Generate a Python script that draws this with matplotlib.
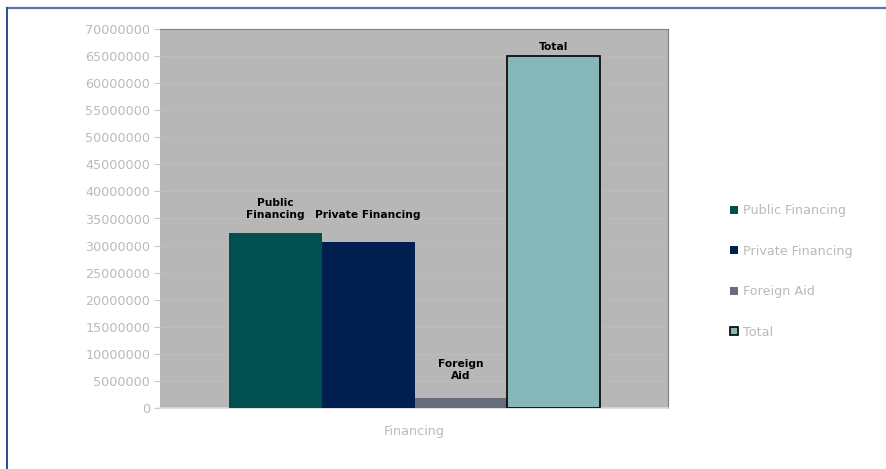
import matplotlib
matplotlib.use("Agg")
from matplotlib import pyplot as plt
from matplotlib.lines import Line2D
import numpy as np

categories = ['Public Financing', 'Private Financing', 'Foreign Aid', 'Total']
bar_labels = ['Public\nFinancing', 'Private Financing', 'Foreign\nAid', 'Total']
values = [32400000, 30700000, 1900000, 65000000]
colors = ['#01504f', '#001e50', '#666e7c', '#87b8b9']
group_label = 'Financing'
yticks = np.arange(0, 70000001, 5000000)

# label lift above each bar top, in points
label_lift = [17, 19.5, 20, 6.5]

fig = plt.figure(figsize=(8.87, 4.69), dpi=100)
ax = fig.add_axes([160 / 887, 1 - 408 / 469, 508 / 887, 379 / 469])
ax.set_facecolor('#b7b7b7')

x = np.arange(len(values))
for i in range(len(values)):
    edge = 'black' if categories[i] == 'Total' else colors[i]
    lw = 1.2 if categories[i] == 'Total' else 0
    ax.bar(x[i], values[i], width=1.0, color=colors[i], edgecolor=edge,
           linewidth=lw, label=categories[i], zorder=3)
    ax.annotate(bar_labels[i], (x[i], values[i]), xytext=(0, label_lift[i]),
                textcoords='offset points', ha='center', va='center',
                fontsize=7.7, fontweight='bold', family='DejaVu Sans',
                linespacing=1.2, zorder=4)

ax.set_xlim(-1.244, 4.233)
ax.set_ylim(0, 70000000)
ax.set_yticks(yticks)
ax.set_yticklabels([str(v) for v in yticks])
ax.set_xticks([1.5])
ax.set_xticklabels([group_label])
ax.yaxis.grid(True, color='#bdbdbd', linewidth=0.6, zorder=0)
ax.set_axisbelow(True)

ax.tick_params(axis='y', colors='#c8c8c8', labelcolor='#bababa', labelsize=9.2,
               length=4, width=0.8, pad=3)
ax.tick_params(axis='x', length=0, labelcolor='#bababa', labelsize=9.2, pad=12)

ax.spines['top'].set_color('#7f7f7f')
ax.spines['right'].set_color('#7f7f7f')
ax.spines['left'].set_visible(False)
ax.spines['bottom'].set_color('#d9d9d9')
ax.spines['bottom'].set_linewidth(1.2)

handles, labels = ax.get_legend_handles_labels()
leg = ax.legend(handles, labels, loc='center left', bbox_to_anchor=(1.1, 0.36),
                frameon=False, fontsize=9.2, labelcolor='#bababa',
                handlelength=0.6, handleheight=0.6, handletextpad=0.4,
                labelspacing=2.15)

# outer frame (top and left edges only)
fig.add_artist(Line2D([7 / 887, 1], [1 - 8.5 / 469, 1 - 8.5 / 469],
                      color='#5a78a8', linewidth=1.6, transform=fig.transFigure))
fig.add_artist(Line2D([7 / 887, 7 / 887], [0, 1 - 8.5 / 469],
                      color='#2a4f8f', linewidth=1.4, transform=fig.transFigure))

fig.savefig('out.png', dpi=100)
